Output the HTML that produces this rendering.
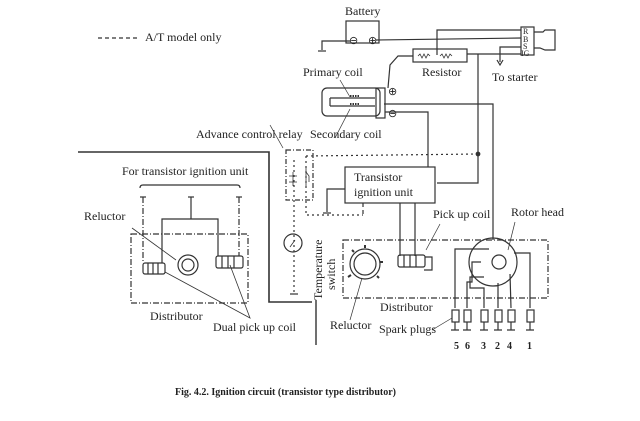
<!DOCTYPE html><html><head><style>body{margin:0;background:#fff}svg{display:block}text{font-family:"Liberation Serif",serif;fill:#222}</style></head><body>
<svg width="640" height="421" viewBox="0 0 640 421" stroke="#333" fill="none" stroke-width="1.2">
<g stroke="none" font-size="12">
<text x="145" y="41">A/T model only</text>
<text x="345" y="15">Battery</text>
<text x="303" y="76">Primary coil</text>
<text x="422" y="76">Resistor</text>
<text x="492" y="81">To starter</text>
<text x="196" y="138">Advance control relay</text>
<text x="310" y="138">Secondary coil</text>
<text x="354" y="181">Transistor</text>
<text x="354" y="196">ignition unit</text>
<text x="122" y="175">For transistor ignition unit</text>
<text x="84" y="220">Reluctor</text>
<text x="433" y="218">Pick up coil</text>
<text x="511" y="216">Rotor head</text>
<text x="150" y="320">Distributor</text>
<text x="213" y="331">Dual pick up coil</text>
<text x="380" y="311">Distributor</text>
<text x="330" y="329">Reluctor</text>
<text x="379" y="333">Spark plugs</text>
<text transform="translate(322,300) rotate(-90)">Temperature</text>
<text transform="translate(335,290) rotate(-90)">switch</text>
<text x="454" y="349" font-family="Liberation Sans" font-weight="bold" font-size="10">5</text>
<text x="465" y="349" font-family="Liberation Sans" font-weight="bold" font-size="10">6</text>
<text x="481" y="349" font-family="Liberation Sans" font-weight="bold" font-size="10">3</text>
<text x="495" y="349" font-family="Liberation Sans" font-weight="bold" font-size="10">2</text>
<text x="507" y="349" font-family="Liberation Sans" font-weight="bold" font-size="10">4</text>
<text x="527" y="349" font-family="Liberation Sans" font-weight="bold" font-size="10">1</text>
<text x="175" y="395" font-family="Liberation Sans" font-weight="bold" font-size="10">Fig. 4.2. Ignition circuit (transistor type distributor)</text>
<text x="523" y="34" font-family="Liberation Sans" font-size="8">R</text>
<text x="523" y="42" font-family="Liberation Sans" font-size="8">B</text>
<text x="523" y="49" font-family="Liberation Sans" font-size="8">S</text>
<text x="521" y="56" font-family="Liberation Sans" font-size="8">IG</text>
</g>
<line x1="98" y1="38" x2="138" y2="38" stroke-dasharray="4,3"/>
<rect x="346" y="21" width="33" height="22"/>
<text x="349" y="44" stroke="none" font-size="11">⊖</text><text x="368" y="44" stroke="none" font-size="11">⊕</text>
<polyline points="350,41 322,41 322,50"/><line x1="318" y1="51" x2="326" y2="51"/>
<line x1="376" y1="40" x2="521" y2="38"/>
<rect x="521" y="27" width="13" height="28"/>
<path d="M534,32 L543,32 L545,30 L555,30 L555,50 L545,50 L540,48 L534,48"/>
<polyline points="521,30 437,30 437,55"/>
<polyline points="521,47 500,47 500,62"/><path d="M497,60 L500,65 L503,60"/>
<line x1="467" y1="54" x2="521" y2="54"/>
<rect x="413" y="49" width="54" height="13"/>
<path d="M418,56 l2,-2 2,4 2,-4 2,4 2,-4 2,2 M440,56 l2,-2 2,4 2,-4 2,4 2,-4 2,2" stroke-width="0.8"/>
<polyline points="413,56 398,56 390,65 388,88"/>
<polyline points="478,54 478,183 437,183"/>
<circle cx="478" cy="154" r="1.8" fill="#333"/>
<rect x="322" y="88" width="58" height="28" rx="5"/>
<rect x="376" y="88" width="9" height="30"/>
<path d="M330,98 L375,98 M330,106 L375,106 M330,98 L330,106"/>
<path d="M350,96 h10 M350,104 h10" stroke-width="2" stroke-dasharray="1.5,1"/>
<text x="388" y="95" stroke="none" font-size="11">⊕</text><text x="388" y="117" stroke="none" font-size="11">⊖</text>
<polyline points="385,112 428,112 428,167"/>
<polyline points="384,104 493,104 493,240"/>
<line x1="335" y1="138" x2="350" y2="109" stroke-width="0.7"/>
<line x1="340" y1="80" x2="350" y2="97" stroke-width="0.7"/>
<rect x="345" y="167" width="90" height="36"/>
<polyline points="345,189 327,189 327,212"/><line x1="323" y1="213" x2="331" y2="213"/>
<line x1="363" y1="203" x2="363" y2="216" stroke-dasharray="4,3"/>
<line x1="400" y1="203" x2="400" y2="256"/><line x1="415" y1="203" x2="415" y2="256"/>
<rect x="286" y="150" width="27" height="50" stroke-dasharray="5,2,1,2"/>
<path d="M293,172 v14 M289,176 h8 M289,182 h8" stroke-width="0.8"/>
<path d="M306,168 v20 M306,172 l3,4 v6" stroke-width="0.8"/>
<line x1="283" y1="148" x2="270" y2="125" stroke-width="0.7"/>
<polyline points="306,156 478,154" stroke-dasharray="2,3"/>
<polyline points="306,156 306,215 363,215" stroke-dasharray="2,3"/>
<line x1="294" y1="160" x2="294" y2="295" stroke-dasharray="2,3"/>
<circle cx="293" cy="243" r="9"/><path d="M290,247 l5,-7" stroke-width="0.8"/>
<line x1="290" y1="294" x2="298" y2="294"/>
<polyline points="78,152 269,152 269,302 312,302" stroke-width="1.6"/>
<line x1="316" y1="300" x2="316" y2="345" stroke-width="1.4"/>
<rect x="131" y="234" width="117" height="69" stroke-dasharray="6,2,1,2"/>
<path d="M140,188 q0,-3 3,-3 L237,185 q3,0 3,3"/>
<line x1="143" y1="197" x2="143" y2="263" stroke-dasharray="6,2,1,2"/><line x1="140" y1="197" x2="146" y2="197"/>
<line x1="239" y1="197" x2="239" y2="256" stroke-dasharray="6,2,1,2"/><line x1="236" y1="197" x2="242" y2="197"/>
<line x1="191" y1="197" x2="191" y2="219"/><line x1="188" y1="197" x2="194" y2="197"/>
<polyline points="162,263 162,219 218,219 218,256"/>
<rect x="143" y="263" width="22" height="11" rx="2"/><path d="M148,263v11M153,263v11M158,263v11"/>
<rect x="216" y="256" width="27" height="12" rx="2"/><path d="M222,256v12M228,256v12M234,256v12"/>
<circle cx="188" cy="265" r="10"/><circle cx="188" cy="265" r="6"/>
<line x1="132" y1="228" x2="176" y2="260" stroke-width="0.8"/>
<polyline points="165,272 250,318 230,265" stroke-width="0.8"/>
<rect x="343" y="240" width="205" height="58" stroke-dasharray="6,2,1,2"/>
<circle cx="365" cy="264" r="15"/><circle cx="365" cy="264" r="11"/>
<path d="M365,248v-3M380,262h3M351,275l-3,2M354,252l-2,-2M377,276l2,2" stroke-width="2"/>
<line x1="350" y1="320" x2="362" y2="278" stroke-width="0.7"/>
<rect x="398" y="255" width="27" height="12" rx="2"/><path d="M404,255v12M410,255v12M416,255v12"/>
<polyline points="425,257 432,257 432,270 424,270"/>
<line x1="426" y1="250" x2="440" y2="224" stroke-width="0.7"/>
<circle cx="493" cy="262" r="24"/><circle cx="499" cy="262" r="7"/>
<line x1="508" y1="250" x2="515" y2="222" stroke-width="0.7"/>
<polyline points="489,249 455,249 455,308"/>
<polyline points="481,262 472,262 472,282 467,282 467,308"/>
<polyline points="484,277 470,277 470,288 484,288 484,308"/>
<polyline points="498,283 498,308"/>
<polyline points="510,274 511,308"/>
<polyline points="514,253 530,253 530,308"/>
<g>
<rect x="452" y="310" width="7" height="12"/><rect x="464" y="310" width="7" height="12"/><rect x="481" y="310" width="7" height="12"/><rect x="495" y="310" width="7" height="12"/><rect x="508" y="310" width="7" height="12"/><rect x="527" y="310" width="7" height="12"/>
<path d="M455,322v8M467,322v8M484,322v8M498,322v8M511,322v8M530,322v8 M451,330h8M463,330h8M480,330h8M494,330h8M507,330h8M526,330h8"/>
</g>
<line x1="432" y1="330" x2="452" y2="318" stroke-width="0.7"/>
</svg>
</body></html>
